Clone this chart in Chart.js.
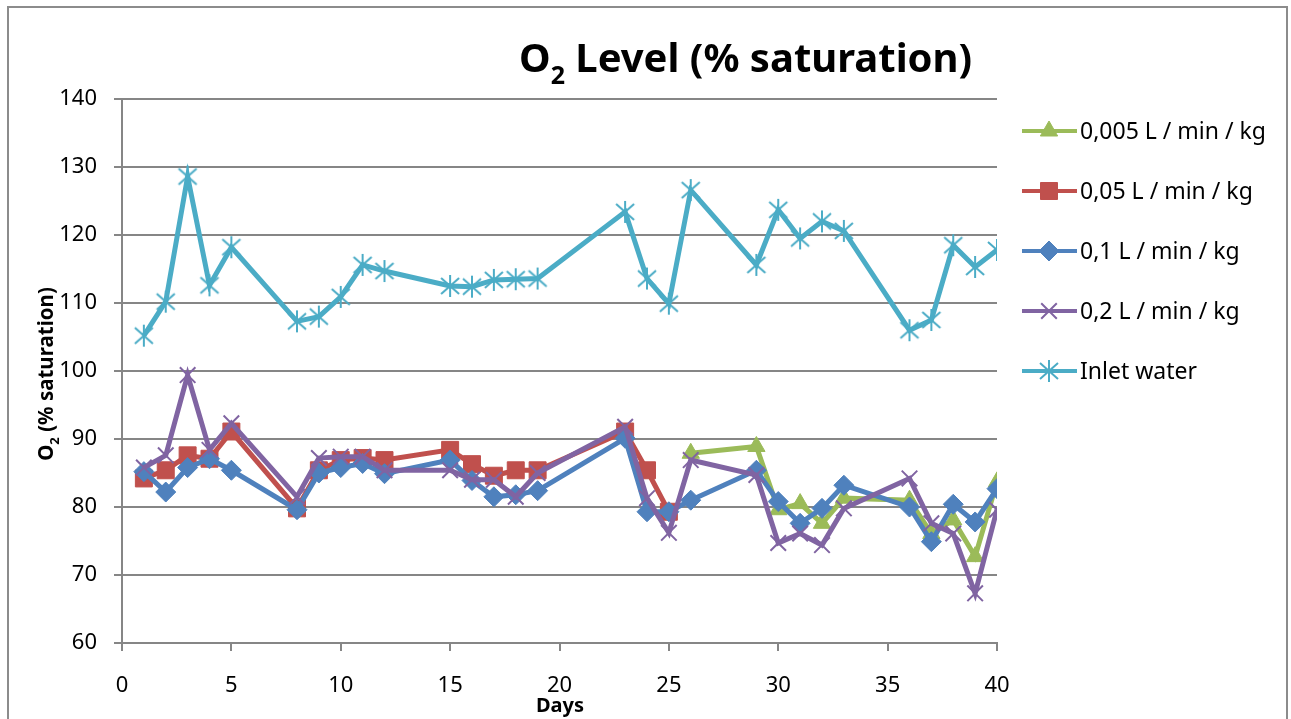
<!DOCTYPE html>
<html>
<head>
    <meta charset="utf-8"/>
    <title>O2 Level</title>
    <script src="https://cdn.jsdelivr.net/npm/chart.js"></script>
    <style>
        body { margin: 0; background: #fff; }
        canvas { display: block; }
    </style>
</head>
<body>
    <canvas id="o2Chart" width="1291" height="719"></canvas>

    <script type="text/javascript">
    // Sampling days
    const days = [1, 2, 3, 4, 5, 8, 9, 10, 11, 12, 15, 16, 17, 18, 19, 23, 24, 25, 26, 29, 30, 31, 32, 33, 36, 37, 38, 39, 40];

    // O2 readings (% saturation), null = no measurement
    const flow0005 = [null, null, null, null, null, null, null, null, null, null, null, null, null, null, null, null, null, null,
                      87.9, 88.9, 79.6, 80.5, 77.6, 81.3, 81.0, 76.1, 78.1, 72.7, 83.7];
    const flow005 = [84.2, 85.4, 87.6, 87.1, 91.1, 79.8, 85.4, 86.9, 87.2, 86.9, 88.4, 86.3, 84.6, 85.4, 85.4, 91.1, 85.4, 79.3,
                     null, null, null, null, null, null, null, null, null, null, null];
    const flow01 = [85.2, 82.2, 85.8, 87.1, 85.4, 79.6, 85.0, 85.8, 86.4, 84.9, 86.9, 83.9, 81.5, 81.8, 82.4, 90.1, 79.3, 79.3,
                    81.0, 85.4, 80.8, 77.6, 79.8, 83.2, 80.0, 74.9, 80.4, 77.8, 82.7];
    const flow02 = [85.8, 87.6, 99.4, 88.4, 92.3, 81.5, 87.2, 87.4, 87.4, 85.4, 85.4, 84.0, 84.0, 81.5, 85.0, 91.8, 81.3, 76.2,
                    86.9, 84.7, 74.7, 76.1, 74.4, 79.8, 84.2, 77.6, 76.1, 67.3, 79.6];
    const inletWater = [105.2, 110.2, 128.6, 112.6, 118.2, 107.3, 108.0, 110.9, 115.6, 114.7, 112.5, 112.4, 113.4, 113.5, 113.6,
                        123.4, 113.6, 109.9, 126.6, 115.6, 123.7, 119.5, 122.0, 120.6, 106.0, 107.5, 118.5, 115.3, 117.8];

    const seriesLabels = ['0,005 L / min / kg', '0,05 L / min / kg', '0,1 L / min / kg', '0,2 L / min / kg', 'Inlet water'];

    const FONT = "'Noto Sans', 'Open Sans', sans-serif";
    const GRID = '#868686';

    // asterisk marker like the spreadsheet "star"
    function makeStar(color) {
        const c = document.createElement('canvas');
        c.width = 24; c.height = 24;
        const g = c.getContext('2d');
        g.strokeStyle = color;
        g.lineWidth = 2;
        g.beginPath();
        g.moveTo(12, 1); g.lineTo(12, 23);
        g.moveTo(3, 4); g.lineTo(21, 20);
        g.moveTo(21, 4); g.lineTo(3, 20);
        g.stroke();
        return c;
    }

    function toPoints(values) {
        return days.map((d, i) => ({ x: d, y: values[i] }));
    }

    function series(label, values, color, style, radius, order) {
        const isLine = style === 'crossRot' || typeof style !== 'string';
        return {
            label: label,
            data: toPoints(values),
            borderColor: color,
            backgroundColor: color,
            borderWidth: 5,
            pointStyle: style,
            pointRadius: radius,
            pointHoverRadius: radius,
            pointBorderWidth: isLine ? 2 : 1,
            pointBorderColor: color,
            pointBackgroundColor: color,
            tension: 0,
            spanGaps: false,
            order: order
        };
    }

    // titles, frame and legend
    const decorPlugin = {
        id: 'decor',
        afterDraw(chart) {
            const ctx = chart.ctx;
            ctx.save();

            // outer frame
            ctx.strokeStyle = '#8c8c8c';
            ctx.lineWidth = 2;
            ctx.strokeRect(8, 7, 1279, 730);

            ctx.fillStyle = '#000';
            ctx.textBaseline = 'alphabetic';

            // text with subscript 2 after the first letter
            function subText(x, y, size, rest) {
                ctx.font = 'bold ' + size + 'px ' + FONT;
                ctx.fillText('O', x, y);
                let w = ctx.measureText('O').width;
                ctx.font = 'bold ' + Math.round(size * 0.62) + 'px ' + FONT;
                ctx.fillText('2', x + w, y + size * 0.3);
                w += ctx.measureText('2').width;
                ctx.font = 'bold ' + size + 'px ' + FONT;
                ctx.fillText(rest, x + w, y);
            }
            function subWidth(size, rest) {
                ctx.font = 'bold ' + size + 'px ' + FONT;
                let w = ctx.measureText('O').width + ctx.measureText(rest).width;
                ctx.font = 'bold ' + Math.round(size * 0.62) + 'px ' + FONT;
                return w + ctx.measureText('2').width;
            }

            // chart title
            ctx.textAlign = 'left';
            subText(519, 72, 40, ' Level (% saturation)');

            // y axis title
            ctx.save();
            ctx.translate(53, 374);
            ctx.rotate(-Math.PI / 2);
            const yw = subWidth(20.5, ' (% saturation)');
            subText(-yw / 2, 0, 20.5, ' (% saturation)');
            ctx.restore();

            // x axis title
            ctx.textAlign = 'center';
            ctx.textBaseline = 'middle';
            ctx.font = 'bold 20px ' + FONT;
            ctx.fillText('Days', 560, 706);

            // legend
            const rows = [131, 191, 251, 311, 371];
            chart.data.datasets.forEach((ds, i) => {
                const y = rows[i];
                ctx.strokeStyle = ds.borderColor;
                ctx.fillStyle = ds.backgroundColor;
                ctx.lineWidth = 4;
                ctx.beginPath();
                ctx.moveTo(1022, y);
                ctx.lineTo(1077, y);
                ctx.stroke();
                ctx.lineWidth = ds.pointBorderWidth;
                Chart.helpers.drawPoint(ctx, {
                    pointStyle: ds.pointStyle,
                    radius: ds.pointRadius,
                    borderWidth: ds.pointBorderWidth,
                    rotation: 0
                }, 1049, y);
                ctx.fillStyle = '#000';
                ctx.textAlign = 'left';
                ctx.textBaseline = 'middle';
                ctx.font = '23px ' + FONT;
                ctx.fillText(ds.label, 1080, y + 1);
            });

            ctx.restore();
        }
    };

    const ctx = document.getElementById('o2Chart').getContext('2d');
    const o2Chart = new Chart(ctx, {
        type: 'line',
        data: {
            datasets: [
                series(seriesLabels[0], flow0005, '#9BBB59', 'triangle', 10, 5),
                series(seriesLabels[1], flow005, '#C0504D', 'rect', 12, 4),
                series(seriesLabels[2], flow01, '#4F81BD', 'rectRot', 10, 3),
                series(seriesLabels[3], flow02, '#8064A2', 'crossRot', 11, 2),
                series(seriesLabels[4], inletWater, '#4BACC6', makeStar('#4BACC6'), 12, 1)
            ]
        },
        options: {
            responsive: false,
            animation: false,
            events: [],
            layout: {
                padding: { left: 0, right: 294, top: 99, bottom: 0 }
            },
            plugins: {
                legend: { display: false },
                title: { display: false },
                tooltip: { enabled: false }
            },
            scales: {
                x: {
                    type: 'linear',
                    min: 0,
                    max: 40,
                    afterFit: s => { s.height = 76; },
                    ticks: {
                        stepSize: 5,
                        color: '#000',
                        padding: 22,
                        maxRotation: 0,
                        font: { family: FONT, size: 22 }
                    },
                    grid: {
                        drawOnChartArea: false,
                        color: GRID,
                        lineWidth: 2,
                        tickLength: 8
                    },
                    border: { color: GRID, width: 2 }
                },
                y: {
                    min: 60,
                    max: 140,
                    afterFit: s => { s.width = 122; },
                    ticks: {
                        stepSize: 10,
                        color: '#000',
                        padding: 17,
                        font: { family: FONT, size: 22 }
                    },
                    grid: {
                        color: GRID,
                        lineWidth: 2,
                        tickLength: 8
                    },
                    border: { color: GRID, width: 2 }
                }
            }
        },
        plugins: [decorPlugin]
    });
    </script>
</body>
</html>
